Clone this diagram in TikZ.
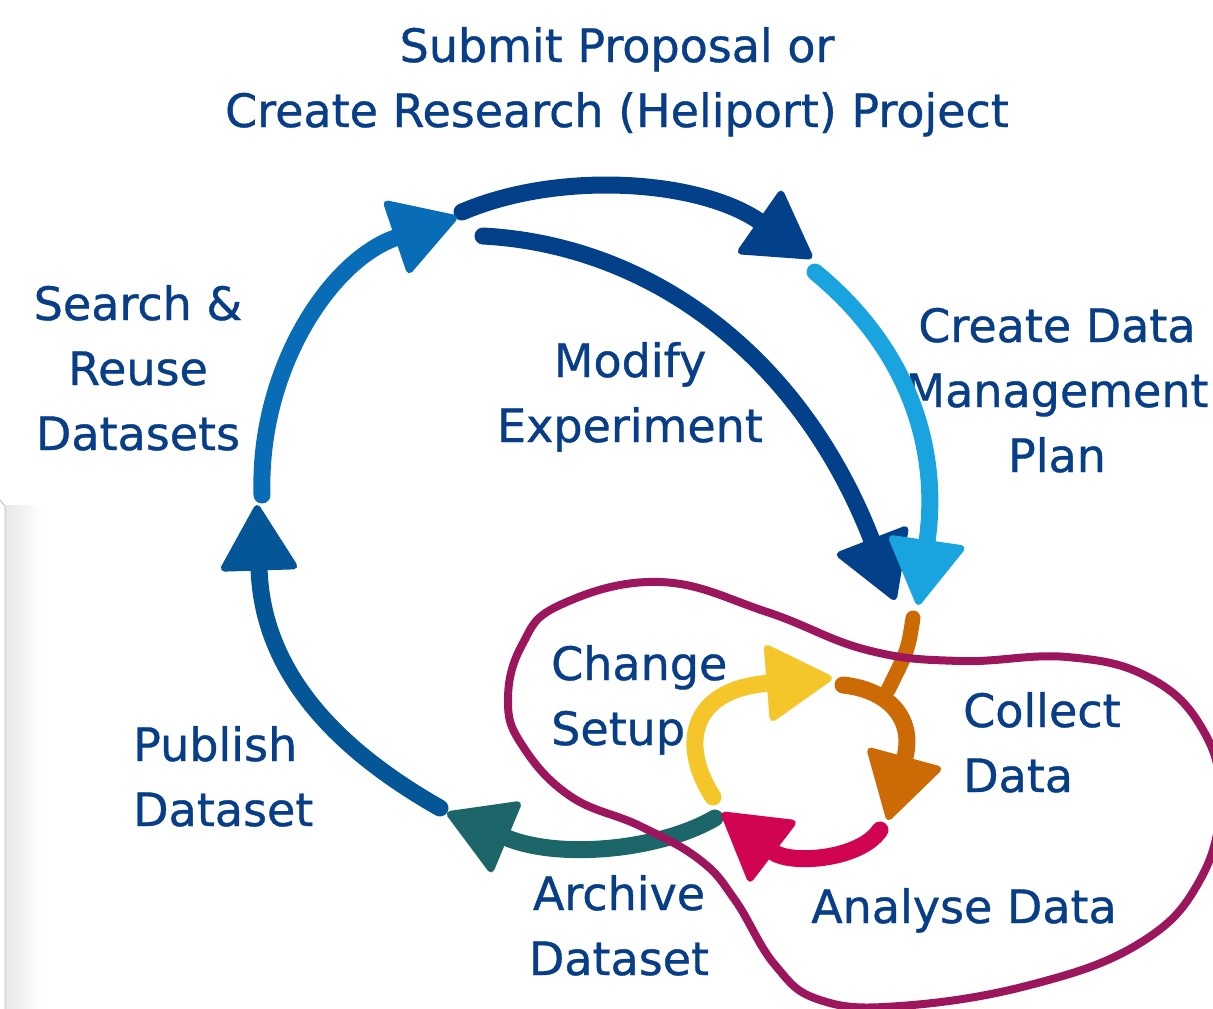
\documentclass[tikz,border=0pt]{standalone}
\usepackage{fontspec}
\setmainfont[FakeBold=0.8]{DejaVu Sans}
\usepackage{tikz}
\usetikzlibrary{arrows.meta}
\definecolor{txtblue}{RGB}{8,62,135}
\definecolor{navy}{RGB}{3,64,138}
\definecolor{skyblue}{RGB}{25,163,223}
\definecolor{midblue}{RGB}{9,108,182}
\definecolor{deepblue}{RGB}{4,86,150}
\definecolor{teal}{RGB}{28,101,104}
\definecolor{orange}{RGB}{204,106,5}
\definecolor{crimson}{RGB}{208,4,82}
\definecolor{yellow}{RGB}{244,198,42}
\definecolor{plum}{RGB}{155,22,92}

\begin{document}
\begin{tikzpicture}[x=1pt,y=-1pt,
	brush/.style={line width=17pt,line cap=round,-{Triangle[length=69pt,width=80pt,round,line width=7pt]}},
	lbl/.style={text=txtblue,font=\fontsize{46}{65}\selectfont,inner sep=0pt,anchor=base}]
	\useasboundingbox (0,0) rectangle (1213,1009);
	\shade[left color=black!9,right color=white] (6,505) rectangle (42,1009);
	\draw[black!25,line width=1pt] (0,500) -- (5,506) -- (5,1009);

	\node[lbl,align=center] (submit) at (617,127) {Submit Proposal or\\Create Research (Heliport) Project};
	\node[lbl,align=center] (search) at (138,450) {Search \&\\Reuse\\Datasets};
	\node[lbl,align=center] (modify) at (630,442) {Modify\\Experiment};
	\node[lbl,align=center] (plan) at (1057,472) {Create Data\\Management\\Plan};
	\node[lbl,align=left,anchor=base west] (change) at (551,745) {Change\\Setup};
	\node[lbl,align=left,anchor=base west] (collect) at (963,792) {Collect\\Data};
	\node[lbl,align=center] (analyse) at (964,923) {Analyse Data};
	\node[lbl,align=center] (archive) at (619,975) {Archive\\Dataset};
	\node[lbl,align=left,anchor=base west] (publish) at (133,826) {Publish\\Dataset};

	\coordinate (sub1) at (462,212);   \coordinate (sub2) at (812,258);
	\coordinate (mod1) at (483,236);   \coordinate (mod2) at (895,600);
	\coordinate (plan1) at (815,272);  \coordinate (plan2) at (918,605);
	\coordinate (reuse1) at (262,495); \coordinate (reuse2) at (457,217);
	\coordinate (pub1) at (440,808);   \coordinate (pub2) at (257,505);
	\coordinate (arch1) at (715,818);  \coordinate (arch2) at (447,813);
	\coordinate (coll1) at (843,685);  \coordinate (coll2) at (888,820);
	\coordinate (stem) at (913,618);   \coordinate (join) at (888,690);
	\coordinate (ana1) at (880,830);   \coordinate (ana2) at (722,813);
	\coordinate (chg1) at (713,797);   \coordinate (chg2) at (832,678);

	\draw[brush,navy] (sub1) .. controls (560,170) and (700,180) .. (sub2);
	\draw[brush,navy] (mod1) .. controls (650,245) and (800,355) .. (mod2);
	\draw[brush,skyblue] (plan1) .. controls (910,350) and (940,450) .. (plan2);
	\draw[brush,midblue] (reuse1) .. controls (258,370) and (330,260) .. (reuse2);
	\draw[brush,deepblue] (pub1) .. controls (320,740) and (262,660) .. (pub2);
	\draw[brush,teal] (arch1) .. controls (660,850) and (560,860) .. (arch2);
	\draw[orange,line width=15pt,line cap=round] (stem) .. controls (908,650) .. (join);
	\draw[brush,orange] (coll1) .. controls (890,690) and (915,720) .. (coll2);
	\draw[brush,crimson] (ana1) .. controls (860,860) and (790,865) .. (ana2);
	\draw[brush,yellow] (chg1) .. controls (682,750) and (685,690) .. (chg2);

	\draw[plum,line width=8pt] plot[smooth cycle,tension=0.7] coordinates {(660,582) (767,612) (867,650) (960,661) (1067,657) (1150,678) (1203,730) (1220,800) (1200,880) (1140,943) (1030,985) (900,1006) (820,1000) (775,965) (735,900) (700,860) (640,826) (570,796) (522,745) (508,700) (522,645) (560,605)};
\end{tikzpicture}
\end{document}
